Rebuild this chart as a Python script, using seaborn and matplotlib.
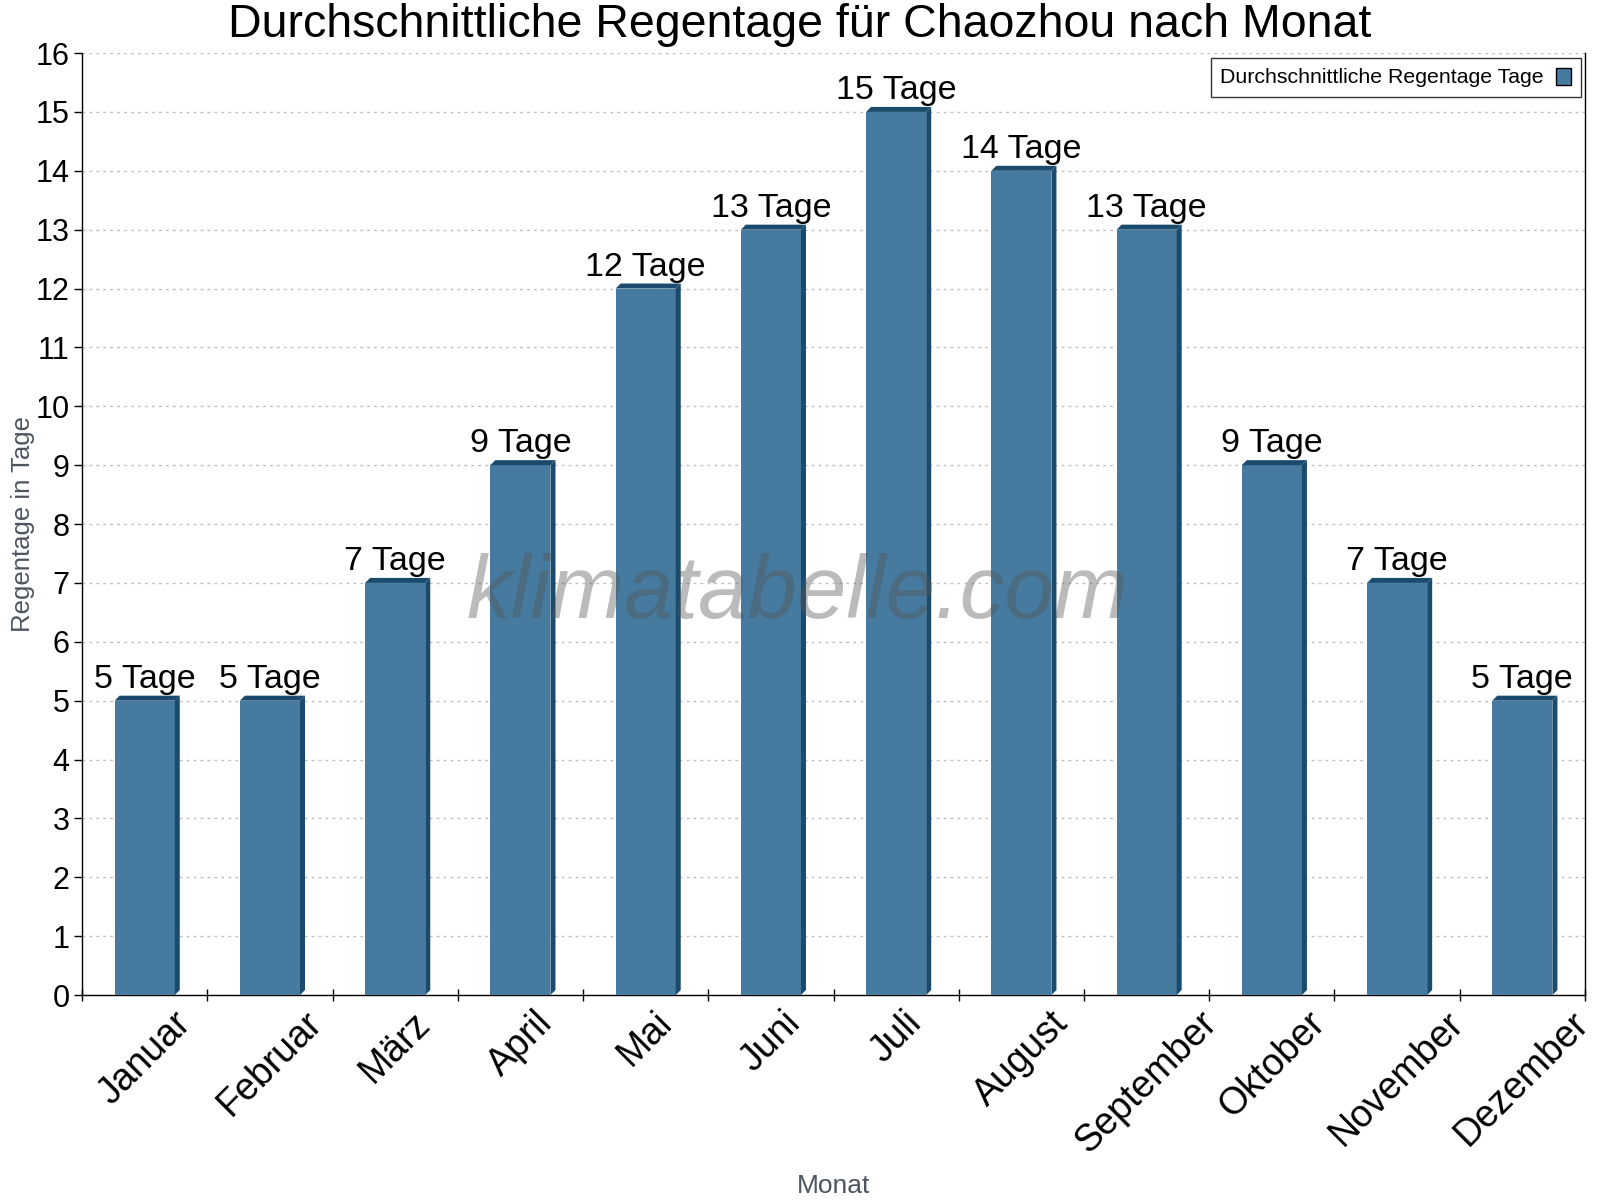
import numpy as np
import pandas as pd
import matplotlib.pyplot as plt
from matplotlib.patches import Polygon
import seaborn as sns

sns.set_style("white")
plt.rcParams["font.family"] = ["Liberation Sans", "DejaVu Sans"]
plt.rcParams["text.color"] = "black"
plt.rcParams["xtick.color"] = "black"
plt.rcParams["ytick.color"] = "black"

monate = ["Januar", "Februar", "März", "April", "Mai", "Juni", "Juli",
          "August", "September", "Oktober", "November", "Dezember"]
regentage = [5, 5, 7, 9, 12, 13, 15, 14, 13, 9, 7, 5]

df = pd.DataFrame({"Monat": monate, "Tage": regentage})

front = "#467a9e"
side = "#1a4a6c"

fig = plt.figure(figsize=(16, 12), dpi=100)
ax = fig.add_axes([0.0513, 0.1708, 0.9393, 0.785])

sns.barplot(data=df, x="Monat", y="Tage", color=front, width=0.48,
            saturation=1, linewidth=0, ax=ax, zorder=3,
            label="Durchschnittliche Regentage Tage")

# 3D side and top for each bar
dx, dy = 0.04, 0.085
for p in ax.patches:
    x0, w, h = p.get_x(), p.get_width(), p.get_height()
    ax.add_patch(Polygon([(x0 + w, 0), (x0 + w + dx, dy), (x0 + w + dx, h + dy), (x0 + w, h)],
                         closed=True, facecolor=side, edgecolor="none", zorder=3))
    ax.add_patch(Polygon([(x0, h), (x0 + dx, h + dy), (x0 + w + dx, h + dy), (x0 + w, h)],
                         closed=True, facecolor=side, edgecolor="none", zorder=3))
    ax.text(x0 + w / 2, h + 0.1, f"{int(h)} Tage", ha="center", va="bottom",
            fontsize=24.5, color="black", zorder=4)

ax.set_xlim(-0.5, len(monate) - 0.5)
ax.set_ylim(0, 16)
ax.set_yticks(range(0, 17))
ax.tick_params(axis="y", labelsize=22, length=6, width=1, direction="out", left=True, pad=3)
ax.set_xticks(range(len(monate)))
ax.set_xticklabels(monate, rotation=45, ha="center", va="top", fontsize=27)
ax.tick_params(axis="x", which="major", length=0, pad=7)
ax.set_xticks(np.arange(-0.5, len(monate)), minor=True)
ax.tick_params(axis="x", which="minor", length=8, width=1, direction="inout", bottom=True)

ax.grid(axis="y", linestyle=(0, (2, 3)), color="#c0c0c0", linewidth=1, zorder=0)
for s in ["left", "bottom", "right"]:
    ax.spines[s].set_visible(True)
    ax.spines[s].set_color("black")
    ax.spines[s].set_linewidth(1)
ax.spines["top"].set_visible(False)

ax.set_ylabel("Regentage in Tage", fontsize=18.5, color="#4d5560")
ax.yaxis.set_label_coords(-0.031, 0.5)
ax.set_xlabel("Monat", fontsize=19, color="#4d5560")
ax.xaxis.set_label_coords(0.5, -0.19)

fig.text(0.5, 1 - 37 / 1200, "Durchschnittliche Regentage für Chaozhou nach Monat",
         ha="center", va="baseline", fontsize=33.5, color="black")

ax.text(0.476, 0.425, "klimatabelle.com", transform=ax.transAxes, ha="center", va="center",
        fontsize=64, style="italic", color="#555555", alpha=0.4, zorder=5)

leg = ax.legend(loc="upper right", fontsize=15.3, frameon=True, fancybox=False,
                markerfirst=False, handlelength=0.7, handleheight=0.85,
                handletextpad=0.6, borderpad=0.45, borderaxespad=0,
                bbox_to_anchor=(0.9973, 0.9947))
leg.get_frame().set_edgecolor("black")
leg.get_frame().set_linewidth(1)
for hnd in leg.legend_handles:
    hnd.set_edgecolor("black")
    hnd.set_linewidth(1)

fig.savefig("out.png", dpi=100)
